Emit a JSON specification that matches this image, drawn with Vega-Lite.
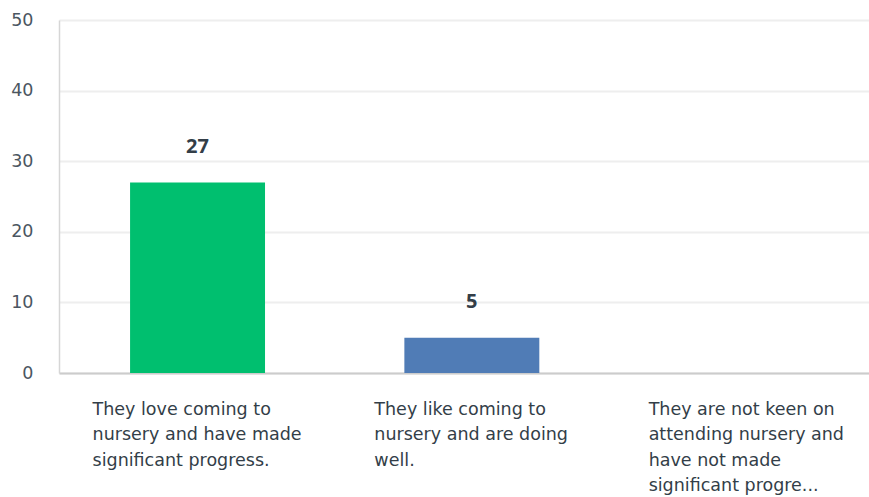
{
  "$schema": "https://vega.github.io/schema/vega-lite/v6.json",
  "width": 810,
  "height": 353,
  "autosize": {"type": "none"},
  "padding": {"left": 59, "top": 20, "right": 0, "bottom": 124},
  "background": "white",
  "config": {"view": {"stroke": null}, "font": "DejaVu Sans"},
  "data": {
    "values": [
      {"answer": "They love coming to\nnursery and have made\nsignificant progress.", "responses": 27},
      {"answer": "They like coming to\nnursery and are doing\nwell.", "responses": 5},
      {"answer": "They are not keen on\nattending nursery and\nhave not made\nsignificant progre...", "responses": 0}
    ]
  },
  "encoding": {
    "x": {
      "field": "answer",
      "type": "nominal",
      "sort": null,
      "scale": {"paddingInner": 0.508, "paddingOuter": 0.2305, "align": 0.562},
      "axis": {
        "title": null,
        "labelAngle": 0,
        "labelExpr": "split(datum.label, '\\n')",
        "labelAlign": "left",
        "labelBaseline": "top",
        "labelPadding": 27,
        "labelLineHeight": 25.5,
        "labelFontSize": 17.5,
        "labelColor": "#333e48",
        "labelLimit": 0,
        "labelOverlap": false,
        "ticks": false,
        "grid": false,
        "domainColor": "#cccccc",
        "domainWidth": 2,
        "labelOffset": {"condition": {"test": "indexof(datum.value, 'love') >= 0", "value": -105}, "value": -97.5}
      }
    },
    "y": {
      "field": "responses",
      "type": "quantitative",
      "scale": {"domain": [0, 50], "nice": false},
      "axis": {
        "title": null,
        "values": [0, 10, 20, 30, 40, 50],
        "ticks": false,
        "labelPadding": 26,
        "labelFontSize": 17.5,
        "labelColor": "#4b5661",
        "domainColor": "#d6d6d6",
        "domainWidth": 1.5,
        "gridColor": "#eeeeee",
        "gridWidth": 2
      }
    }
  },
  "layer": [
    {
      "mark": {"type": "bar"},
      "encoding": {
        "color": {
          "field": "answer",
          "type": "nominal",
          "sort": null,
          "scale": {"range": ["#00BF6F", "#507CB6", "#F05B24"]},
          "legend": null
        }
      }
    },
    {
      "transform": [{"filter": "datum.responses > 0"}],
      "mark": {"type": "text", "dy": -29.5, "baseline": "alphabetic", "fontSize": 20, "fontWeight": "bold", "font": "Open Sans", "color": "#333e48"},
      "encoding": {"text": {"field": "responses", "type": "quantitative"}}
    }
  ]
}
